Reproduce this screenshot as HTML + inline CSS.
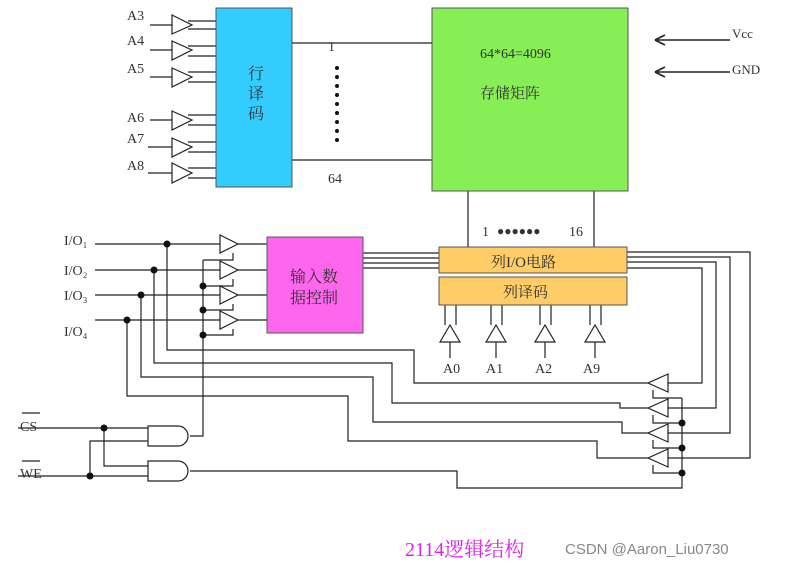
<!DOCTYPE html>
<html><head><meta charset="utf-8"><style>
html,body{margin:0;padding:0;background:#fff;}
svg{display:block;}
text{font-family:"Liberation Serif","Noto Serif CJK SC",serif;fill:#333;}
</style></head><body>
<svg width="786" height="568" viewBox="0 0 786 568" xmlns="http://www.w3.org/2000/svg">
<g stroke="#222" stroke-width="1.2" fill="none">
<!-- A3..A8 buffers -->
<path d="M150 25H172 M150 50H172 M150 77H172 M150 120H172 M148 147H172 M148 173H172"/>
<path d="M188 21H216 M188 29H216 M188 46H216 M188 56H216 M188 72H216 M188 82H216 M188 115H216 M188 125H216 M188 142H216 M188 152H216 M188 168H216 M188 178H216"/>
<path d="M172 15L192 25L172 34Z M172 41L192 50L172 60Z M172 68L192 77L172 87Z M172 111L192 120L172 130Z M172 138L192 147L172 157Z M172 163L192 173L172 183Z" fill="#fff"/>
<!-- decoder to array -->
<path d="M292 43H432 M292 160H432"/>
<!-- Vcc / GND arrows -->
<path d="M655 40H730 M655 72H730" stroke-width="1.6"/>
<path d="M655 40L665 35 M655 40L665 45 M655 72L665 67 M655 72L665 77" stroke-width="1.6"/>
<!-- array to column -->
<path d="M468 191V247 M594 191V247"/>
<!-- magenta to column IO -->
<path d="M363 253H439 M363 258H439 M363 263H439 M363 268H439"/>
<!-- column IO to right -->
<path d="M627 252H750V458H668 M627 257H730V433H668 M627 262H716V408H668 M627 268H702V383H668"/>
<!-- column input buffers -->
<path d="M445 305V325 M456 305V325 M491 305V325 M502 305V325 M540 305V325 M551 305V325 M590 305V325 M601 305V325"/>
<path d="M440 342L450 325L460 342Z M486 342L496 325L506 342Z M535 342L545 325L555 342Z M585 342L595 325L605 342Z" fill="#fff"/>
<path d="M450 342V358 M496 342V358 M545 342V358 M595 342V358"/>
<!-- I/O inputs -->
<path d="M95 244H220 M95 270H220 M95 295H220 M95 320H220"/>
<path d="M220 235L238 244L220 253Z M220 261L238 270L220 279Z M220 286L238 295L220 304Z M220 311L238 320L220 329Z" fill="#fff"/>
<path d="M238 244H267 M238 270H267 M238 295H267 M238 320H267"/>
<!-- enables -->
<path d="M203 260H233V253 M203 286H233V279 M203 310H233V304 M203 335H233V329 M203 260V436H190"/>
<!-- dots verticals -->
<path d="M167 244V350H414V383H648 M154 270V363H392V403H620V408H648 M141 295V377H373V422H622V433H648 M127 320V396H348V441H597V458H648"/>
<!-- right buffers -->
<path d="M668 374L648 383L668 392Z M668 399L648 408L668 417Z M668 424L648 433L668 442Z M668 449L648 458L668 467Z" fill="#fff"/>
<path d="M653 390V398H682 M653 415V423H682 M653 440V448H682 M653 465V473H682 M682 398V488H457V471H190"/>
<!-- CS WE -->
<path d="M18 428H148 M18 476H148 M90 476V441H148 M104 428V466H148"/>
<path d="M148 426H178A10 10 0 0 1 178 446H148Z M148 461H178A10 10 0 0 1 178 481H148Z" fill="#fff"/>
<path d="M22 413H40 M22 461H40"/>
</g>
<g fill="#111">
<circle cx="167" cy="244" r="3.5"/><circle cx="154" cy="270" r="3.5"/><circle cx="141" cy="295" r="3.5"/><circle cx="127" cy="320" r="3.5"/>
<circle cx="203" cy="286" r="3.5"/><circle cx="203" cy="310" r="3.5"/><circle cx="203" cy="335" r="3.5"/>
<circle cx="104" cy="428" r="3.5"/><circle cx="90" cy="476" r="3.5"/>
<circle cx="682" cy="423" r="3.5"/><circle cx="682" cy="448" r="3.5"/><circle cx="682" cy="473" r="3.5"/>
<circle cx="337" cy="68" r="2"/><circle cx="337" cy="77" r="2"/><circle cx="337" cy="86" r="2"/><circle cx="337" cy="95" r="2"/><circle cx="337" cy="104" r="2"/><circle cx="337" cy="113" r="2"/><circle cx="337" cy="122" r="2"/><circle cx="337" cy="131" r="2"/><circle cx="337" cy="140" r="2"/>
</g>
<rect x="216" y="8" width="76" height="179" fill="#33ccff" stroke="#555"/>
<rect x="432" y="8" width="196" height="183" fill="#88ee55" stroke="#555"/>
<rect x="267" y="237" width="96" height="96" fill="#ff66ee" stroke="#555"/>
<rect x="439" y="247" width="188" height="26" fill="#ffcc66" stroke="#555"/>
<rect x="439" y="277" width="188" height="28" fill="#ffcc66" stroke="#555"/>
<g font-size="14">
<text x="127" y="20">A3</text><text x="127" y="45">A4</text><text x="127" y="73">A5</text><text x="127" y="122">A6</text><text x="127" y="143">A7</text><text x="127" y="170">A8</text>
<text x="248" y="79" font-size="16">行</text><text x="248" y="99" font-size="16">译</text><text x="248" y="119" font-size="16">码</text>
<text x="328" y="51">1</text><text x="328" y="183">64</text>
<text x="480" y="58">64*64=4096</text>
<text x="480" y="98" font-size="15">存储矩阵</text>
<text x="732" y="38" font-size="13">Vcc</text><text x="732" y="74" font-size="13">GND</text>
<text x="482" y="236">1</text><text x="497" y="235" font-size="12">●●●●●●</text><text x="569" y="236">16</text>
<text x="491" y="267" font-size="15">列I/O电路</text>
<text x="503" y="297" font-size="15">列译码</text>
<text x="443" y="373">A0</text><text x="486" y="373">A1</text><text x="535" y="373">A2</text><text x="583" y="373">A9</text>
<text x="290" y="282" font-size="16">输入数</text><text x="290" y="303" font-size="16">据控制</text>
<text x="64" y="245">I/O₁</text><text x="64" y="275">I/O₂</text><text x="64" y="300">I/O₃</text><text x="64" y="336">I/O₄</text>
<text x="20" y="431">CS</text><text x="20" y="478">WE</text>
</g>
<text x="405" y="556" font-size="20" style="fill:#dd22ee">2114逻辑结构</text>
<text x="565" y="554" font-size="15" style="fill:#888;font-family:'Liberation Sans',sans-serif">CSDN @Aaron_Liu0730</text>
</svg>
</body></html>
